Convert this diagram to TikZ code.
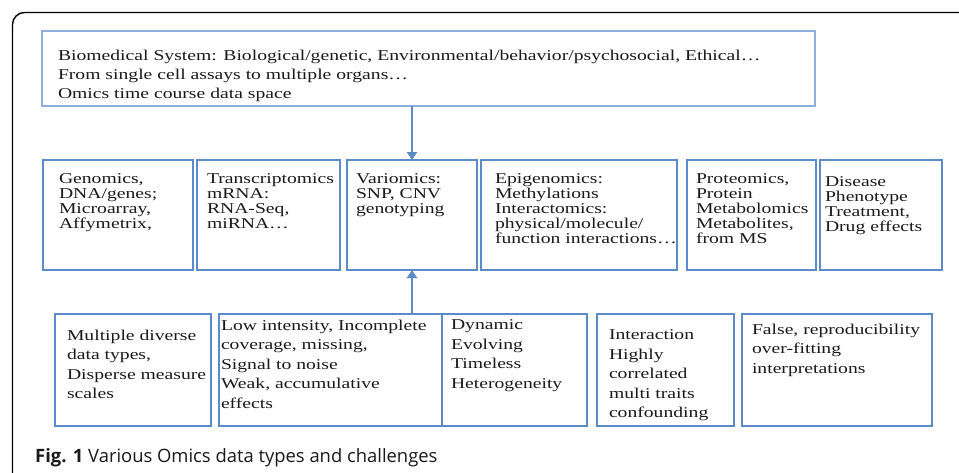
\documentclass[tikz,border=0pt]{standalone}
\usepackage{fontspec}
\usetikzlibrary{arrows.meta}
\newfontfamily\boxfont[FakeStretch=1.31]{Liberation Serif}
\newfontfamily\capfont{Open Sans}
\definecolor{topblue}{HTML}{8DAFDA}
\definecolor{boxblue}{HTML}{5B8BC9}
\definecolor{txtcol}{HTML}{1A1A1A}
\tikzset{
  box/.style={draw=boxblue, line width=1.8pt, inner sep=0pt, outer sep=0pt, anchor=north west},
  topbox/.style={box, draw=topblue},
  txtmid/.style={inner sep=0pt, outer sep=0pt, anchor=north west, align=left, text=txtcol,
     font={\boxfont\fontsize{15}{15}\selectfont}, execute at begin node={\rule{0pt}{11pt}}},
  txtlow/.style={txtmid, font={\boxfont\fontsize{15}{19.5}\selectfont}},
  txttop/.style={txtmid, font={\boxfont\fontsize{15}{19}\selectfont}},
  conn/.style={draw=boxblue, line width=2.4pt, -{Triangle[length=8pt,width=10pt]}},
}
\begin{document}
\begin{tikzpicture}[x=1pt,y=-1pt]
\useasboundingbox (0,0) rectangle (959,472);
\clip (0,0) rectangle (959,472);
\fill[white] (0,0) rectangle (959,472);
% outer frame
\coordinate (fbl) at (12.5,490);
\coordinate (ftr) at (980,12.5);
\draw[black, line width=1.4pt, rounded corners=12pt] (fbl) |- (ftr);

% top box
\node[topbox, minimum width=773pt, minimum height=75pt] (top) at (42,31) {};
\node[txttop] (topt) at (58,50) {Biomedical System: Biological/genetic, Environmental/behavior/psychosocial, Ethical…\\From single cell assays to multiple organs…\\Omics time course data space};

% middle row
\node[box, minimum width=150pt, minimum height=110pt] (m1) at (43,160) {};
\node[box, minimum width=143pt, minimum height=110pt] (m2) at (197,160) {};
\node[box, minimum width=130pt, minimum height=110pt] (m3) at (347,160) {};
\node[box, minimum width=196pt, minimum height=110pt] (m4) at (481,160) {};
\node[box, minimum width=129pt, minimum height=110pt] (m5) at (687,160) {};
\node[box, minimum width=122pt, minimum height=110pt] (m6) at (820,160) {};
\node[txtmid] (m1t) at (59,174) {Genomics,\\DNA/genes;\\Microarray,\\Affymetrix,};
\node[txtmid] (m2t) at (207,174) {Transcriptomics\\mRNA:\\RNA-Seq,\\miRNA…};
\node[txtmid] (m3t) at (356,174) {Variomics:\\SNP, CNV\\genotyping};
\node[txtmid] (m4t) at (495,174) {Epigenomics:\\Methylations\\Interactomics:\\physical/molecule/\\function interactions…};
\node[txtmid] (m5t) at (696,174) {Proteomics,\\Protein\\Metabolomics\\Metabolites,\\from MS};
\node[txtmid] (m6t) at (825,177) {Disease\\Phenotype\\Treatment,\\Drug effects};

% bottom row
\node[box, minimum width=156pt, minimum height=112pt] (b1) at (55,314) {};
\node[box, minimum width=223pt, minimum height=112pt] (b2) at (219,314) {};
\node[box, minimum width=145pt, minimum height=112pt] (b3) at (442,314) {};
\node[box, minimum width=137pt, minimum height=112pt] (b4) at (597,314) {};
\node[box, minimum width=190pt, minimum height=112pt] (b5) at (742,314) {};
\node[txtlow] (b1t) at (67,330) {Multiple diverse\\data types,\\Disperse measure\\scales};
\node[txtlow] (b2t) at (221,320) {Low intensity, Incomplete\\coverage, missing,\\Signal to noise\\Weak, accumulative\\effects};
\node[txtlow] (b3t) at (451,320) {Dynamic\\Evolving\\Timeless\\Heterogeneity};
\node[txtlow] (b4t) at (609,330) {Interaction\\Highly\\correlated\\multi traits\\confounding};
\node[txtlow] (b5t) at (752,324) {False, reproducibility\\over-fitting\\interpretations};

% connectors
\draw[conn] (m3.north |- top.south) -- (m3.north);
\draw[conn] (m3.south |- b2.north) -- (m3.south);

% caption
\node[anchor=base west, inner sep=0pt, text=txtcol, font={\capfont\fontsize{18.4}{22}\selectfont}] (cap) at (35,462) {\textbf{Fig. 1} Various Omics data types and challenges};
\end{tikzpicture}
\end{document}
